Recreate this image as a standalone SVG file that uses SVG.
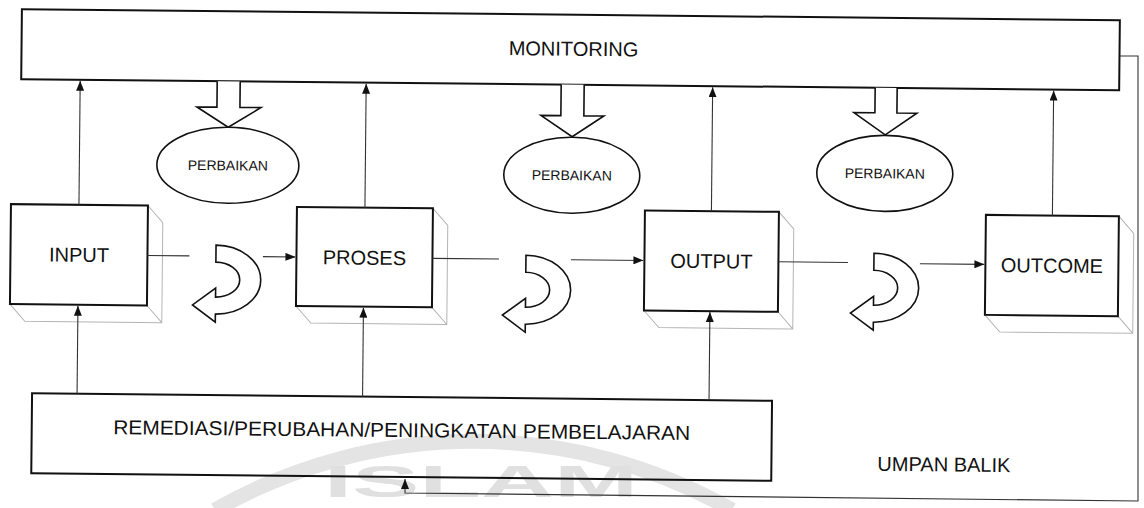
<svg xmlns="http://www.w3.org/2000/svg" width="1144" height="508" viewBox="0 0 1144 508">
<defs>
<marker id="ah" markerUnits="userSpaceOnUse" markerWidth="10" markerHeight="8" refX="10" refY="4" orient="auto">
<path d="M0,0 L10,4 L0,8 Z" fill="#111"/>
</marker>
<path id="uturn" d="M0,0 A45,34.5 0 0 1 0,69 L0,77 L-23,60 L0,43 L0,52 A24,17.5 0 0 0 0,17 Z"/>
</defs>
<style>
.box{fill:none;stroke:#111;stroke-width:2}
.shadow{fill:none;stroke:#b4b4b4;stroke-width:1}
.ell{fill:#fff;stroke:#111;stroke-width:1.6}
.hollow{fill:#fff;stroke:#111;stroke-width:1.6;stroke-linejoin:miter}
.conn{fill:none;stroke:#333;stroke-width:1.1}
.lbl{font-family:"Liberation Sans",Arial,sans-serif;font-size:20px;fill:#111;text-anchor:middle}
.small{font-family:"Liberation Sans",Arial,sans-serif;font-size:14px;fill:#111;text-anchor:middle}
.wm{fill:none;stroke:#e4e4e4;stroke-width:15}
</style>
<rect width="1144" height="508" fill="#fff"/>
<g id="watermark">
<path class="wm" d="M215,510 A521,521 0 0 1 732,510"/>
<text x="324" y="497" font-family="'Liberation Sans',Arial,sans-serif" font-weight="bold" font-size="44" fill="#e0e0e0" textLength="314" lengthAdjust="spacingAndGlyphs">ISLAM</text>
</g>
<g transform="rotate(0.573)">
<g id="monitoring">
<rect class="box" x="22" y="9" width="1098" height="70"/>
<text class="lbl" x="574" y="50">MONITORING</text>
</g>
<g id="perbaikan1">
<path class="hollow" d="M218,79 V105 H198 L229.5,125 L262,105 H241 V79"/>
<ellipse class="ell" cx="229.5" cy="163" rx="71" ry="38"/>
<text class="small" x="229.5" y="168">PERBAIKAN</text>
</g>
<g id="perbaikan2">
<path class="hollow" d="M562,79 V110 H542 L573.5,131 L605,110 H585 V79"/>
<ellipse class="ell" cx="573.5" cy="169.5" rx="68" ry="38"/>
<text class="small" x="573.5" y="174.5">PERBAIKAN</text>
</g>
<g id="perbaikan3">
<path class="hollow" d="M876,79 V104 H855 L886.5,126 L918,104 H898 V79"/>
<ellipse class="ell" cx="886.5" cy="164.5" rx="68" ry="38"/>
<text class="small" x="886.5" y="169.5">PERBAIKAN</text>
</g>
<g id="input">
<path class="shadow" d="M150,204 l15,17 V321 H28 L13,304 M150,304 l15,17"/>
<rect class="box" x="13" y="204" width="137" height="100"/>
<text class="lbl" x="81.5" y="261">INPUT</text>
</g>
<g id="proses">
<path class="shadow" d="M435,204 l15,17 V320 H314 L299,303 M435,303 l15,17"/>
<rect class="box" x="299" y="204" width="136" height="99"/>
<text class="lbl" x="367" y="261">PROSES</text>
</g>
<g id="output">
<path class="shadow" d="M781,204 l15,17 V321 H662 L647,304 M781,304 l15,17"/>
<rect class="box" x="647" y="204" width="134" height="100"/>
<text class="lbl" x="714" y="261">OUTPUT</text>
</g>
<g id="outcome">
<path class="shadow" d="M1121,205 l15,17 V322 H1003 L988,305 M1121,305 l15,17"/>
<rect class="box" x="988" y="205" width="133" height="100"/>
<text class="lbl" x="1054.5" y="262">OUTCOME</text>
</g>
<g id="remediasi">
<rect class="box" x="36" y="393" width="740" height="80"/>
<text class="lbl" x="406" y="433" textLength="577" lengthAdjust="spacingAndGlyphs">REMEDIASI/PERUBAHAN/PENINGKATAN PEMBELAJARAN</text>
</g>
<g id="umpan-balik">
<text class="lbl" x="882" y="462" style="text-anchor:start">UMPAN BALIK</text>
</g>
<g id="cycles">
<use href="#uturn" class="hollow" x="218.5" y="243"/>
<use href="#uturn" class="hollow" x="528.5" y="250"/>
<use href="#uturn" class="hollow" x="876.5" y="244.5"/>
</g>
<g id="connectors">
<path class="conn" d="M81,204 V80" marker-end="url(#ah)"/>
<path class="conn" d="M367,204 V80" marker-end="url(#ah)"/>
<path class="conn" d="M713.5,204 V80" marker-end="url(#ah)"/>
<path class="conn" d="M1054.5,205 V80" marker-end="url(#ah)"/>
<path class="conn" d="M81,393 V305" marker-end="url(#ah)"/>
<path class="conn" d="M366.5,393 V304" marker-end="url(#ah)"/>
<path class="conn" d="M713,393 V305" marker-end="url(#ah)"/>
<path class="conn" d="M150,254 H192"/>
<path class="conn" d="M265.5,254 H298" marker-end="url(#ah)"/>
<path class="conn" d="M435,254 H501.5"/>
<path class="conn" d="M573.5,254 H646" marker-end="url(#ah)"/>
<path class="conn" d="M781,254 H850.5"/>
<path class="conn" d="M922.5,254.5 H987" marker-end="url(#ah)"/>
</g>
</g>
<g id="feedback">
<path class="conn" d="M1120,56 H1138 V501 L405,493 V479" marker-end="url(#ah)"/>
</g>
</svg>
